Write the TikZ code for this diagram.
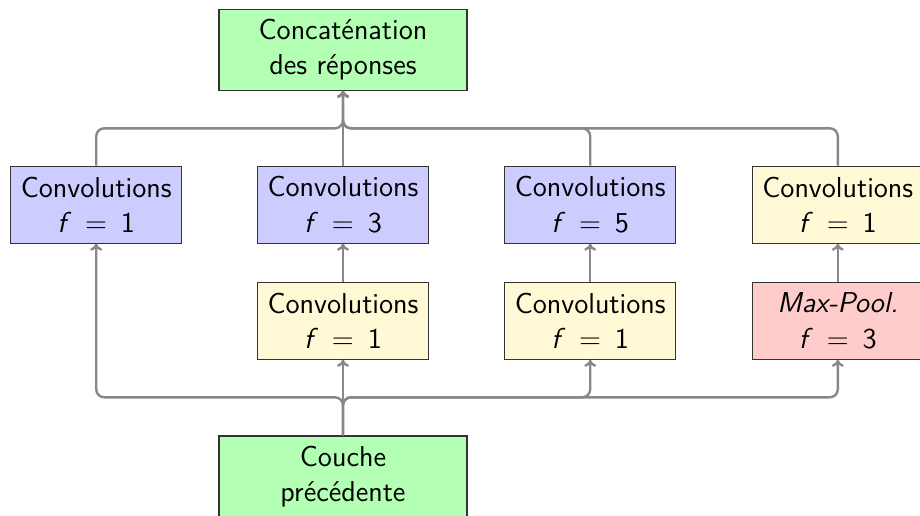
\documentclass[tikz,border=0pt]{standalone}
\usetikzlibrary{arrows.meta}
\definecolor{convblue}{RGB}{204,204,255}
\definecolor{convyellow}{RGB}{255,249,214}
\definecolor{poolred}{RGB}{255,204,204}
\definecolor{iogreen}{RGB}{179,255,179}
\definecolor{wire}{RGB}{136,136,136}
% filter size label, e.g. f = 3
\newcommand{\fsize}[1]{\textit{f}\hspace{0.48em}=\hspace{0.48em}#1}
\begin{document}
\begin{tikzpicture}[x=0.5pt,y=-0.5pt,
  font=\sffamily\fontsize{14.4}{17.75}\selectfont,
  box/.style={draw=black!80, line width=0.6pt, align=center, inner sep=1pt,
    minimum width=85.5pt, minimum height=38.5pt},
  iobox/.style={box, fill=iogreen, minimum width=124pt, minimum height=40.5pt},
  convbox/.style={box, fill=convblue},
  redbox/.style={box, fill=convyellow},
  poolbox/.style={box, fill=poolred},
  conn/.style={draw=wire, line width=1.2pt, rounded corners=4pt,
    -{To[length=3.5pt,width=6pt]}}]
  \useasboundingbox (0,0) rectangle (920,515);

  % input and output of the block
  \node[iobox] (concat) at (343,49.7) {Concaténation\\des réponses};
  \node[iobox] (prev) at (343,476.5) {Couche\\précédente};

  % upper row of convolutions
  \node[convbox] (convA) at (96.2,204.6) {Convolutions\\\fsize{1}};
  \node[convbox] (convB) at (343,204.6) {Convolutions\\\fsize{3}};
  \node[convbox] (convC) at (590.2,204.6) {Convolutions\\\fsize{5}};
  \node[redbox] (convD) at (837.8,204.6) {Convolutions\\\fsize{1}};

  % lower row: reductions and pooling
  \node[redbox] (redB) at (343,320.7) {Convolutions\\\fsize{1}};
  \node[redbox] (redC) at (590.2,320.7) {Convolutions\\\fsize{1}};
  \node[poolbox] (pool) at (837.8,320.7) {\textit{Max-Pool.}\\\fsize{3}};

  % bus levels
  \coordinate (topbus) at (343,128.3);
  \coordinate (botbus) at (343,397.3);

  % fan-out from the previous layer
  \draw[conn] (prev.north) -- (botbus) -| (convA.south);
  \draw[conn] (prev.north) -- (redB.south);
  \draw[conn] (prev.north) -- (botbus) -| (redC.south);
  \draw[conn] (prev.north) -- (botbus) -| (pool.south);

  % inner links
  \draw[conn] (redB.north) -- (convB.south);
  \draw[conn] (redC.north) -- (convC.south);
  \draw[conn] (pool.north) -- (convD.south);

  % fan-in to the concatenation
  \draw[conn] (convA.north) |- (topbus) -- (concat.south);
  \draw[conn] (convB.north) -- (concat.south);
  \draw[conn] (convC.north) |- (topbus) -- (concat.south);
  \draw[conn] (convD.north) |- (topbus) -- (concat.south);
\end{tikzpicture}
\end{document}
